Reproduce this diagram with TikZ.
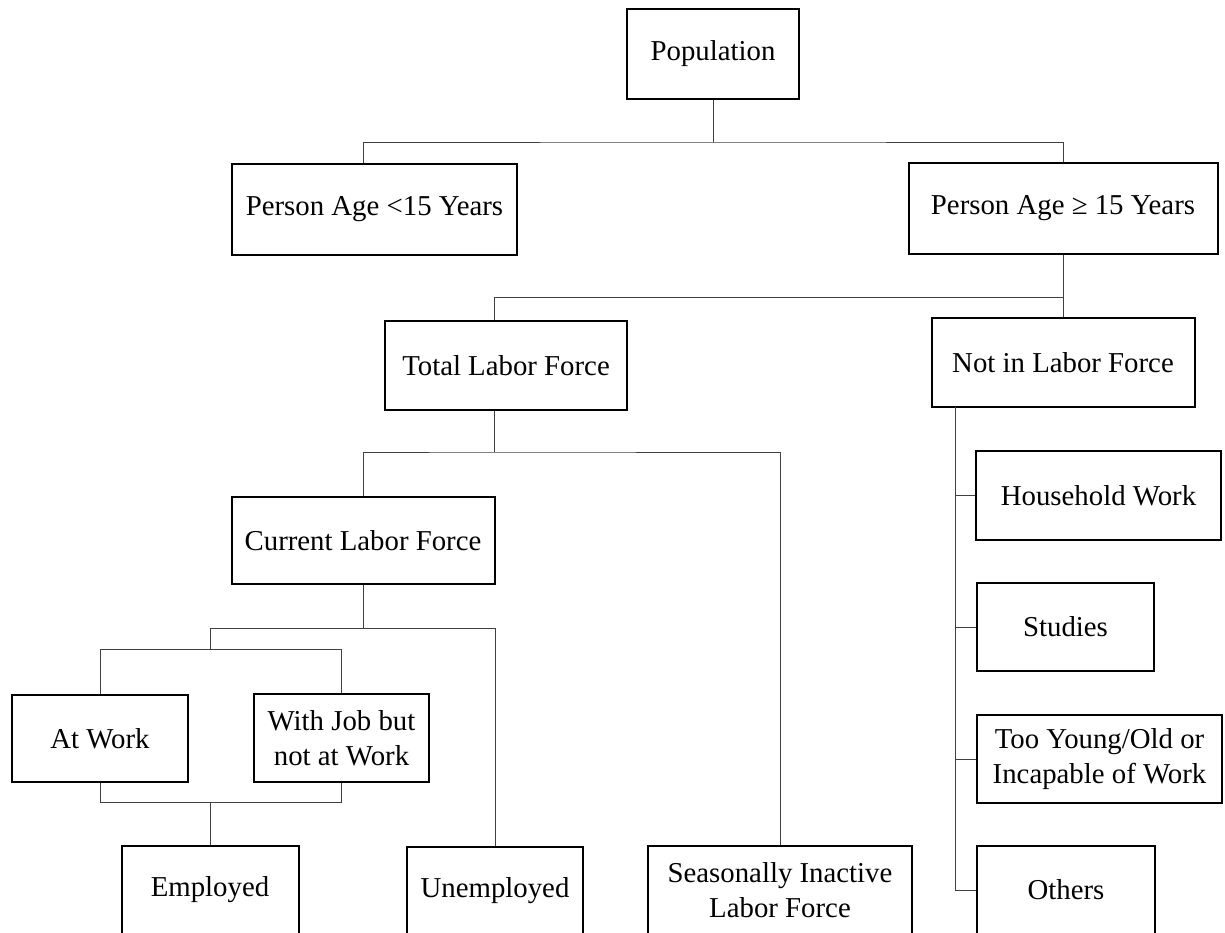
\documentclass[tikz,border=0pt]{standalone}
\usepackage{fontspec}
\setmainfont{Liberation Serif}
\usepackage{tikz}

\begin{document}
\begin{tikzpicture}[x=0.5pt,y=0.5pt]
\tikzstyle{every node}+=[inner sep=0pt]
\tikzstyle{box}=[draw=black,line width=1pt,align=center,font=\fontsize{14.4}{17.5}\selectfont]
\tikzstyle{link}=[draw=black!75,line width=0.5pt]
\useasboundingbox (0,0) rectangle (1225,-932);
\node [box,minimum width=86pt,minimum height=45pt] (pop) at (713,-54) {Population};
\node [box,minimum width=142.5pt,minimum height=45.5pt] (young) at (374.5,-209.5) {Person Age <15 Years};
\node [box,minimum width=154.5pt,minimum height=45.5pt] (adult) at (1063,-208.5) {Person Age ≥ 15 Years};
\node [box,minimum width=121pt,minimum height=44.5pt] (tlf) at (506,-365.5) {Total Labor Force};
\node [box,minimum width=131.5pt,minimum height=44.5pt] (nlf) at (1063,-362.5) {Not in Labor Force};
\node [box,minimum width=131.5pt,minimum height=43.5pt] (clf) at (363,-540.5) {Current Labor Force};
\node [box,minimum width=88pt,minimum height=43.5pt] (atwork) at (100,-738.5) {At Work};
\node [box,minimum width=87.5pt,minimum height=44pt] (withjob) at (341.5,-738) {With Job but\\not at Work};
\node [box,minimum width=88.5pt,minimum height=44pt] (empl) at (210,-890) {Employed};
\node [box,minimum width=88pt,minimum height=44pt] (unempl) at (495,-890.5) {Unemployed};
\node [box,minimum width=132pt,minimum height=44pt] (season) at (780,-890) {Seasonally Inactive\\Labor Force};
\node [box,minimum width=122.5pt,minimum height=44.5pt] (house) at (1098.5,-495.5) {Household Work};
\node [box,minimum width=88.5pt,minimum height=44pt] (studies) at (1065.5,-627) {Studies};
\node [box,minimum width=122.5pt,minimum height=44pt] (tooyoung) at (1099.5,-759) {Too Young/Old or\\Incapable of Work};
\node [box,minimum width=89pt,minimum height=44pt] (others) at (1066,-890) {Others};
% junction points
\coordinate (j1) at (713,-142);
\coordinate (j2) at (1063,-297);
\coordinate (j3) at (494,-452);
\coordinate (j4) at (363,-628);
\coordinate (j5) at (210,-649);
\coordinate (j6) at (210,-802);
\coordinate (j7) at (955,-407);
% population split
\draw [link] (pop.south) -- (j1);
\draw [link] ([xshift=-5.75pt]young.north) |- (j1) -| (adult.north);
% age 15 and over
\draw [link] (adult.south) -- (nlf.north);
\draw [link] ([xshift=-6pt]tlf.north) |- (j2);
% total labor force
\draw [link] ([xshift=-6pt]tlf.south) -- (j3);
\draw [link] (clf.north) |- (j3) -| (season.north);
% current labor force
\draw [link] (clf.south) -- (j4);
\draw [link] (j5) |- (j4) -| (unempl.north);
\draw [link] (atwork.north) |- (j5) -| (withjob.north);
\draw [link] (atwork.south) |- (j6) -| (withjob.south);
\draw [link] (j6) -- (empl.north);
% not in labor force
\draw [link] (j7) |- (others.west);
\draw [link] (j7 |- house.west) -- (house.west);
\draw [link] (j7 |- studies.west) -- (studies.west);
\draw [link] (j7 |- tooyoung.west) -- (tooyoung.west);
\end{tikzpicture}
\end{document}
